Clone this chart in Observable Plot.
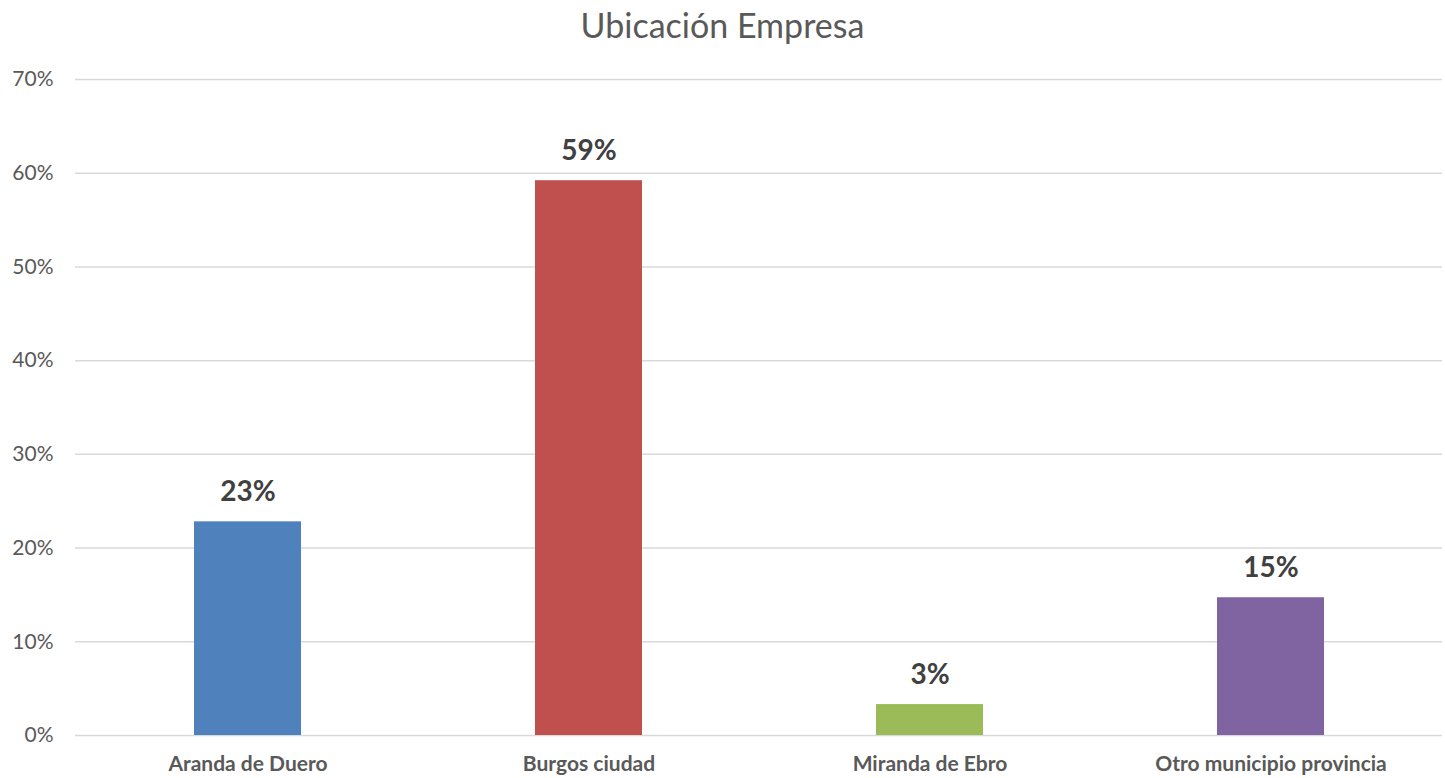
<!DOCTYPE html>
<html>
<head>
<meta charset="utf-8">
<script src="https://cdn.jsdelivr.net/npm/d3@7"></script>
<script src="https://cdn.jsdelivr.net/npm/@observablehq/plot@0.6"></script>
<style>
  html, body { margin: 0; padding: 0; background: #fff; }
  #title { height: 50px; line-height: 50px; text-align: center; font-family: Lato, "Open Sans", sans-serif; font-size: 34px; color: #595959; }
  #chart svg { display: block; }
</style>
</head>
<body>
<div id="title">Ubicación Empresa</div>
<div id="chart"></div>
<script>
const categories = ["Aranda de Duero", "Burgos ciudad", "Miranda de Ebro", "Otro municipio provincia"];
const values = [22.8, 59.2, 3.3, 14.7];
const colors = ["#4F81BD", "#C0504D", "#9BBB59", "#8064A2"];
const yTicks = [0, 10, 20, 30, 40, 50, 60, 70];

const data = categories.map((c, i) => ({category: c, value: values[i], color: colors[i]}));

const chart = Plot.plot({
  width: 1445,
  height: 728,
  marginTop: 29,
  marginBottom: 43,
  marginLeft: 75,
  marginRight: 3,
  style: {fontFamily: "Lato, 'Open Sans', sans-serif", background: "#fff"},
  x: {domain: categories, paddingInner: 0.687, paddingOuter: 0.3435, label: null},
  y: {domain: [0, 70], label: null},
  marks: [
    Plot.gridY(yTicks, {stroke: "#d9d9d9", strokeOpacity: 1, strokeWidth: 1.5}),
    Plot.axisY(yTicks, {tickSize: 0, tickPadding: 22, tickFormat: d => d + "%", fontSize: 21, fill: "#595959", label: null}),
    Plot.axisX({tickSize: 0, tickPadding: 21, fontSize: 21, fontWeight: "bold", fill: "#595959", label: null}),
    Plot.barY(data, {x: "category", y: "value", fill: "color"}),
    Plot.text(data, {x: "category", y: "value", text: d => Math.round(d.value) + "%", dy: -30, fontSize: 28, fontWeight: "bold", fill: "#404040"})
  ]
});
document.getElementById("chart").appendChild(chart);
</script>
</body>
</html>
